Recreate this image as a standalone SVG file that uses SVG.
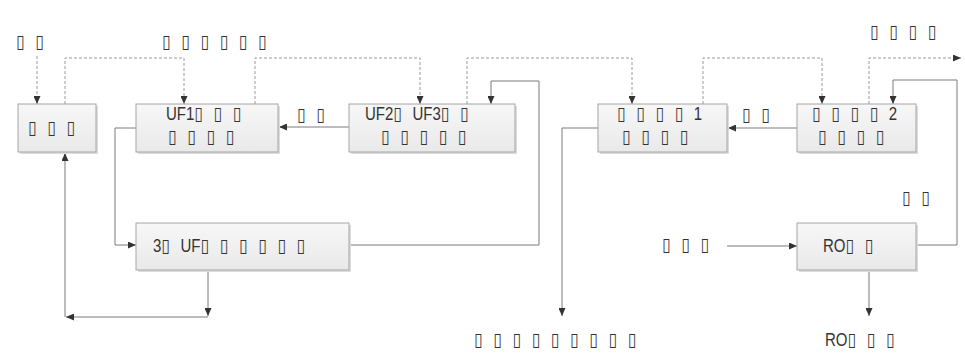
<svg xmlns="http://www.w3.org/2000/svg" width="965" height="356" viewBox="0 0 965 356">
<defs>
<linearGradient id="bg" x1="0" y1="0" x2="0" y2="1">
<stop offset="0" stop-color="#f7f7f7"/>
<stop offset="1" stop-color="#e9e9e9"/>
</linearGradient>
<marker id="ah" markerWidth="8" markerHeight="7" refX="8" refY="3.5" orient="auto" markerUnits="userSpaceOnUse">
<path d="M0,0 L8,3.5 L0,7 z" fill="#333"/>
</marker>
</defs>
<style>
.box{fill:url(#bg);stroke:#a6a6a6;stroke-width:1}
.sh{fill:#dcdcdc}
.t{font-family:"Liberation Sans","DejaVu Sans",sans-serif;font-size:15px;fill:#333;word-spacing:6.8px}
.ln{fill:none;stroke:#7a7a7a;stroke-width:1}
.dl{fill:none;stroke:#9a9a9a;stroke-width:1;stroke-dasharray:3 2}
</style>
<rect width="965" height="356" fill="#fff"/>
<g id="connectors">
<path class="dl" d="M37,56 L37,104" marker-end="url(#ah)"/>
<path class="dl" d="M65,104 L65,58 L184,58 L184,104" marker-end="url(#ah)"/>
<path class="dl" d="M255,104 L255,58 L420,58 L420,104" marker-end="url(#ah)"/>
<path class="dl" d="M467,104 L467,58 L632,58 L632,104" marker-end="url(#ah)"/>
<path class="dl" d="M703,104 L703,58 L822,58 L822,104" marker-end="url(#ah)"/>
<path class="dl" d="M869,104 L869,58 L961,58" marker-end="url(#ah)"/>
<path class="ln" d="M349,127 L279,127" marker-end="url(#ah)"/>
<path class="ln" d="M797,128 L728,128" marker-end="url(#ah)"/>
<path class="ln" d="M136,128 L115,128 L115,245 L136,245" marker-end="url(#ah)"/>
<path class="ln" d="M349,245 L539,245 L539,81 L491,81 L491,104" marker-end="url(#ah)"/>
<path class="ln" d="M208,270 L208,316" marker-end="url(#ah)"/>
<path class="ln" d="M208,317 L66,317" marker-end="url(#ah)"/>
<path class="ln" d="M65,317 L65,153" marker-end="url(#ah)"/>
<path class="ln" d="M598,128 L562,128 L562,316" marker-end="url(#ah)"/>
<path class="ln" d="M916,245 L957,245 L957,80 L893,80 L893,104" marker-end="url(#ah)"/>
<path class="ln" d="M727,246 L797,246" marker-end="url(#ah)"/>
<path class="ln" d="M869,270 L869,316" marker-end="url(#ah)"/>
</g>
<g id="nodeA"><rect class="sh" x="20" y="106" width="78" height="48"/><rect class="box" x="18" y="104" width="78" height="48"/><text class="t" transform="matrix(1 0 0 1.22 28 134)">▯ ▯ ▯</text></g>
<g id="nodeB"><rect class="sh" x="138" y="106" width="142" height="48"/><rect class="box" x="136" y="104" width="142" height="48"/><text class="t" transform="matrix(1 0 0 1.22 166 120)">UF1▯ ▯ ▯</text><text class="t" transform="matrix(1 0 0 1.22 168 143)">▯ ▯ ▯ ▯</text></g>
<g id="nodeC"><rect class="sh" x="351" y="106" width="166" height="48"/><rect class="box" x="349" y="104" width="166" height="48"/><text class="t" transform="matrix(1 0 0 1.22 365 120)">UF2▯ UF3▯ ▯</text><text class="t" transform="matrix(1 0 0 1.22 381 143)">▯ ▯ ▯ ▯ ▯</text></g>
<g id="nodeD"><rect class="sh" x="600" y="106" width="129" height="48"/><rect class="box" x="598" y="104" width="129" height="48"/><text class="t" transform="matrix(1 0 0 1.22 617 120)">▯ ▯ ▯ ▯ 1</text><text class="t" transform="matrix(1 0 0 1.22 622 143)">▯ ▯ ▯ ▯</text></g>
<g id="nodeE"><rect class="sh" x="799" y="106" width="119" height="48"/><rect class="box" x="797" y="104" width="119" height="48"/><text class="t" transform="matrix(1 0 0 1.22 812 120)">▯ ▯ ▯ ▯ 2</text><text class="t" transform="matrix(1 0 0 1.22 818 143)">▯ ▯ ▯ ▯</text></g>
<g id="nodeF"><rect class="sh" x="138" y="225" width="213" height="47"/><rect class="box" x="136" y="223" width="213" height="47"/><text class="t" transform="matrix(1 0 0 1.22 153 252)">3▯ UF▯ ▯ ▯ ▯ ▯ ▯</text></g>
<g id="nodeG"><rect class="sh" x="799" y="225" width="119" height="47"/><rect class="box" x="797" y="223" width="119" height="47"/><text class="t" transform="matrix(1 0 0 1.22 823 252)">RO▯ ▯</text></g>
<g id="labels">
<text class="t" transform="matrix(1 0 0 1.22 16 48)">▯ ▯</text>
<text class="t" transform="matrix(1 0 0 1.22 162 48)">▯ ▯ ▯ ▯ ▯ ▯</text>
<text class="t" transform="matrix(1 0 0 1.22 870 38)">▯ ▯ ▯ ▯</text>
<text class="t" transform="matrix(1 0 0 1.22 297 121)">▯ ▯</text>
<text class="t" transform="matrix(1 0 0 1.22 742 121)">▯ ▯</text>
<text class="t" transform="matrix(1 0 0 1.22 902 204)">▯ ▯</text>
<text class="t" transform="matrix(1 0 0 1.22 662 251)">▯ ▯ ▯</text>
<text class="t" transform="matrix(1 0 0 1.22 474 346)">▯ ▯ ▯ ▯ ▯ ▯ ▯ ▯ ▯</text>
<text class="t" transform="matrix(1 0 0 1.22 825 346)">RO▯ ▯ ▯</text>
</g>
</svg>
